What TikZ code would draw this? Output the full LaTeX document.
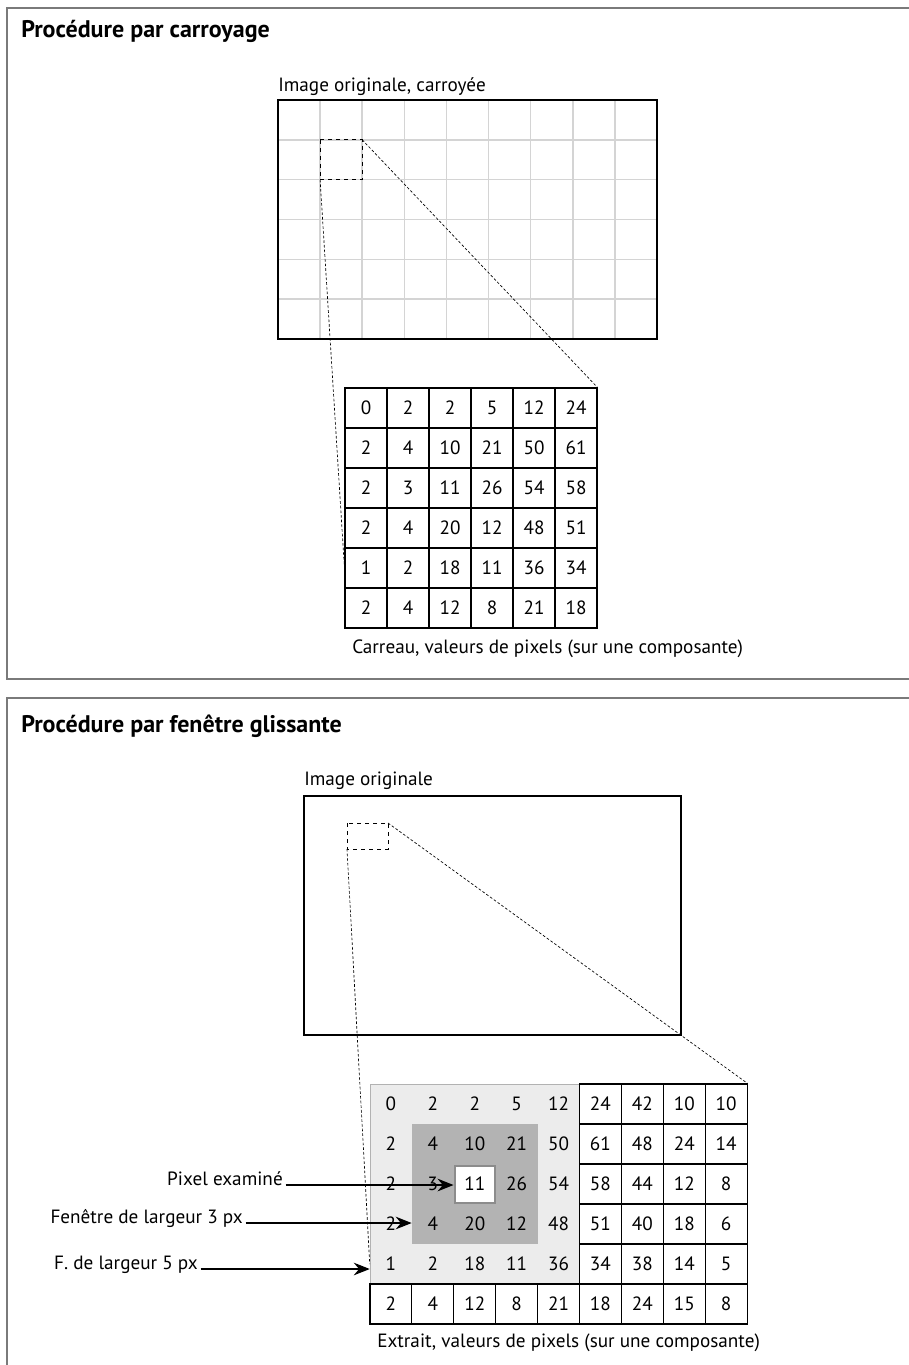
\documentclass[tikz,border=0pt]{standalone}
\usepackage{fontspec}
\setmainfont{PT Sans}
\usetikzlibrary{arrows.meta}

\definecolor{panelgray}{HTML}{7A7A7A}
\definecolor{gridgray}{HTML}{D4D4D4}
\definecolor{winlight}{HTML}{ECECEC}
\definecolor{windark}{HTML}{B3B3B3}
\definecolor{pixgray}{HTML}{8C8C8C}

\begin{document}
\begin{tikzpicture}[x=0.75pt,y=-0.75pt,
    panel/.style={draw=panelgray, line width=1.2pt},
    heading/.style={anchor=base west, inner sep=0pt, font=\fontsize{18}{21}\selectfont\bfseries},
    caption/.style={anchor=base west, inner sep=0pt, font=\fontsize{14.4}{17}\selectfont},
    cell/.style={minimum width=31.4pt, minimum height=30pt, inner sep=0pt, font=\fontsize{14.4}{17}\selectfont},
    boxed/.style={cell, draw, line width=0.8pt},
    zoomline/.style={dash pattern=on 2pt off 1.5pt, line width=0.5pt},
    pointer/.style={-{Stealth[length=12pt,width=9.5pt,inset=4pt]}, line width=1pt}]
  \useasboundingbox (0,0) rectangle (909,1365);

  % Panels
  \draw[panel] (7,8) rectangle (915,679);
  \draw[panel] (7,698) rectangle (915,1372);
  \node[heading] (head1) at (21,37) {Procédure par carroyage};
  \node[heading] (head2) at (21,732) {Procédure par fenêtre glissante};

  % Gridded original image
  \foreach \i in {1,...,8}
    \draw[gridgray, line width=1.1pt] (278+42.11*\i,100) -- (278+42.11*\i,339);
  \foreach \j in {1,...,5}
    \draw[gridgray, line width=1.1pt] (278,100+39.83*\j) -- (657,100+39.83*\j);
  \draw[line width=1.3pt] (278,100) rectangle (657,339);
  \draw[dashed, line width=0.8pt] (320.1,139.8) rectangle (362.2,179.7);
  \coordinate (tileA) at (362.2,139.8);
  \coordinate (tileB) at (320.1,179.7);
  \node[caption] (img1) at (278,91) {Image originale, carroyée};

  % Tile values
  \foreach \row [count=\r from 0] in {{0,2,2,5,12,24},{2,4,10,21,50,61},{2,3,11,26,54,58},
                                       {2,4,20,12,48,51},{1,2,18,11,36,34},{2,4,12,8,21,18}}
    \foreach \v [count=\c from 0] in \row
      \node[boxed, minimum width=31.5pt] (t-\r-\c) at (366+42*\c,408+40*\r) {\v};
  \node[caption] (cap1) at (352,653) {Carreau, valeurs de pixels (sur une composante)};

  \draw[zoomline] (tileA) -- (t-0-5.north east);
  \draw[zoomline] (tileB) -- (t-4-0.west);

  % Original image with sliding window
  \draw[line width=1.3pt] (304,796) rectangle (681,1035);
  \draw[dashed, line width=0.6pt] (347,823) rectangle (388,849);
  \coordinate (winA) at (388,823);
  \coordinate (winB) at (347,849);
  \node[caption] (img2) at (304,785) {Image originale};

  % Window shading
  \fill[winlight, draw=gray!60] (370,1084) rectangle (579.5,1284);
  \fill[windark] (411.9,1124) rectangle (537.6,1244);
  \draw[pixgray, fill=white, line width=2.2pt] (455,1166) rectangle (495,1203);

  % Extract values
  \foreach \row [count=\r from 0] in {{0,2,2,5,12,24,42,10,10},{2,4,10,21,50,61,48,24,14},
                                       {2,3,11,26,54,58,44,12,8},{2,4,20,12,48,51,40,18,6},
                                       {1,2,18,11,36,34,38,14,5},{2,4,12,8,21,18,24,15,8}}
    \foreach \v [count=\c from 0] in \row {
      \ifnum\r<5 \ifnum\c<5 \def\cellstyle{cell}\else\def\cellstyle{boxed}\fi
      \else \def\cellstyle{boxed}\fi
      \node[\cellstyle] (b-\r-\c) at (390.95+41.9*\c,1104+40*\r) {\v};
    }
  \node[caption] (cap2) at (377,1347) {Extrait, valeurs de pixels (sur une composante)};

  \draw[zoomline] (winA) -- (b-0-8.north east);
  \draw[zoomline] (winB) -- (b-4-0.west);

  % Pointers
  \node[caption, anchor=base east] (pixlab) at (283,1185) {Pixel examiné};
  \node[caption, anchor=base east] (win3lab) at (243,1223) {Fenêtre de largeur 3 px};
  \node[caption, anchor=base east] (win5lab) at (198,1269) {F. de largeur 5 px};
  \draw[pointer] ([xshift=2pt]pixlab.base east) -- (pixlab.base east -| b-2-2.west);
  \draw[pointer] ([xshift=2pt]win3lab.base east) -- (win3lab.base east -| b-3-1.west);
  \draw[pointer] ([xshift=2pt]win5lab.base east) -- (win5lab.base east -| b-4-0.west);
\end{tikzpicture}
\end{document}
